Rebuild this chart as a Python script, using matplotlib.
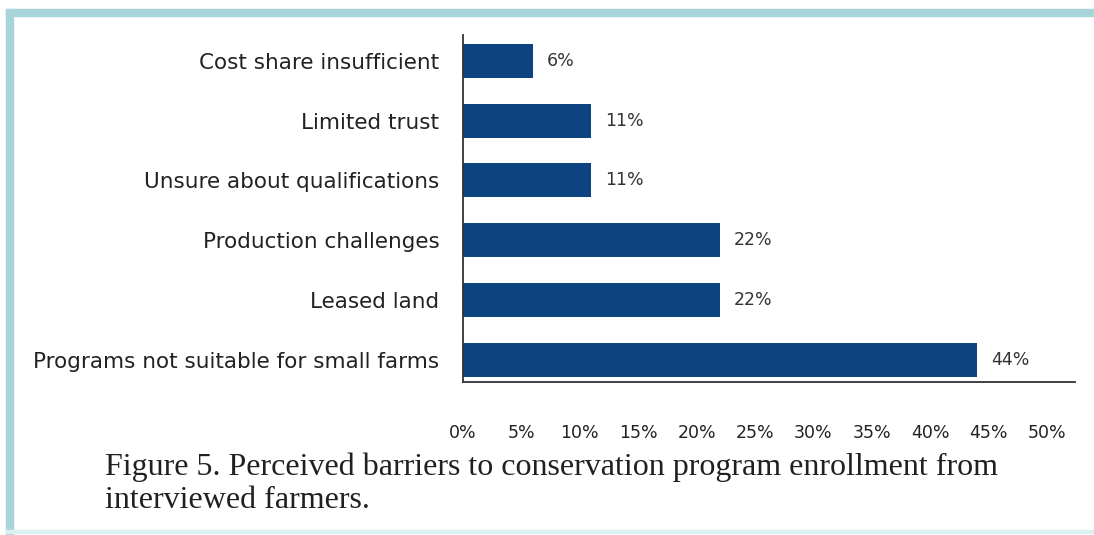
import matplotlib.pyplot as plt
from matplotlib.patches import Rectangle

barriers = ['Programs not suitable for small farms', 'Leased land',
            'Production challenges', 'Unsure about qualifications',
            'Limited trust', 'Cost share insufficient']
shares = [44, 22, 22, 11, 11, 6]
xticks = [0, 5, 10, 15, 20, 25, 30, 35, 40, 45, 50]

fig = plt.figure(figsize=(10.94, 5.35), dpi=100)

# teal frame on top and left, faint line at the bottom
fig.patches.append(Rectangle((6 / 1094, 0), 7 / 1094, 1 - 9 / 535,
                             transform=fig.transFigure, color='#a8d5da', zorder=0))
fig.patches.append(Rectangle((6 / 1094, 1 - 16 / 535), 1, 7 / 535,
                             transform=fig.transFigure, color='#a8d5da', zorder=0))
fig.patches.append(Rectangle((6 / 1094, 2 / 535), 1, 3 / 535,
                             transform=fig.transFigure, color='#dcf0f2', zorder=0))

ax = fig.add_axes([463 / 1094, 1 - 382 / 535, (1075 - 463) / 1094, (382 - 35) / 535])
ypos = list(range(len(barriers)))
ax.barh(ypos, shares, height=0.57, color='#0e4382')
for y, v in zip(ypos, shares):
    ax.text(v + 1.2, y, f'{v}%', va='center', ha='left', fontsize=12.5, color='#333333')

ax.set_xlim(0, 52.4)
ax.set_ylim(-0.37, 5.43)
ax.set_yticks(ypos)
ax.set_yticklabels(barriers, fontsize=15.5, color='#222222')
ax.set_xticks(xticks)
ax.set_xticklabels([f'{t}%' for t in xticks], fontsize=12.5, color='#222222')
ax.tick_params(axis='y', length=0, pad=17)
ax.tick_params(axis='x', length=0, pad=30)
for side in ['top', 'right']:
    ax.spines[side].set_visible(False)
ax.spines['left'].set_color('#333333')
ax.spines['bottom'].set_color('#333333')
ax.spines['left'].set_linewidth(1.3)
ax.spines['bottom'].set_linewidth(1.3)

fig.text(105 / 1094, 1 - 467 / 535,
         'Figure 5. Perceived barriers to conservation program enrollment from',
         family='Liberation Serif', fontsize=23, color='#231f20', va='center')
fig.text(105 / 1094, 1 - 500 / 535, 'interviewed farmers.',
         family='Liberation Serif', fontsize=23, color='#231f20', va='center')

fig.savefig('out.png', dpi=100)
